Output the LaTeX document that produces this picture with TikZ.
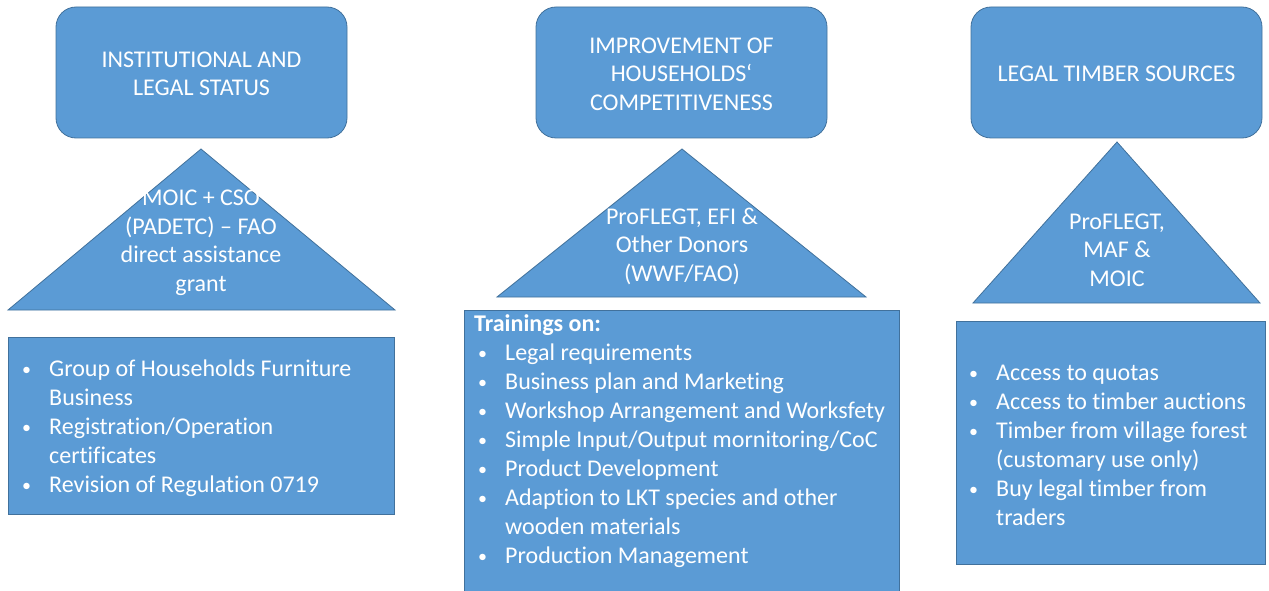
\documentclass[tikz,border=0pt]{standalone}
\usepackage{fontspec}
\setmainfont{Carlito}[Ligatures=NoCommon]
\definecolor{fillblue}{HTML}{5B9BD5}
\definecolor{edgeblue}{HTML}{41719C}
\begin{document}
\begin{tikzpicture}[x=1pt,y=-1pt,
  shapebox/.style={fill=fillblue,draw=edgeblue,line width=0.8pt},
  headbox/.style={shapebox,rounded corners=20pt},
  wtext/.style={text=white,font=\fontsize{24}{28.5}\selectfont,inner sep=0pt},
  ltext/.style={text=white,font=\fontsize{24}{29}\selectfont,inner sep=0pt,align=left}]
\useasboundingbox (0,0) rectangle (1269,591);
\newcommand{\bl}{\makebox[27pt][l]{\raisebox{1pt}{\scalebox{0.75}{\textbullet}}}}
\newcommand{\ind}{\hspace*{27pt}}
% column 1
\draw[headbox] (56,7) rectangle (347,138);
\node[wtext,align=center] (h1) at (201.5,74) {INSTITUTIONAL AND\\LEGAL STATUS};
\draw[shapebox] (201,149) -- (395,310) -- (8,310) -- cycle;
\node[wtext,align=center] (t1) at (201,243) {MOIC + CSO\\(PADETC) -- FAO\\direct assistance\\grant};
\draw[shapebox] (8,337) rectangle (394,514);
\node[ltext,anchor=west] (l1) at (22,428) {\bl Group of Households Furniture\\\ind Business\\\bl Registration/Operation\\\ind certificates\\\bl Revision of Regulation 0719};
% column 2
\draw[headbox] (536,7) rectangle (827,138);
\node[wtext,align=center] (h2) at (681.5,74) {IMPROVEMENT OF\\HOUSEHOLDS‘\\COMPETITIVENESS};
\draw[shapebox] (682,149) -- (866,297) -- (497,297) -- cycle;
\node[wtext,align=center] (t2) at (682,246) {ProFLEGT, EFI \&\\Other Donors\\(WWF/FAO)};
\draw[shapebox] (464,310) rectangle (899,593);
\node[ltext,anchor=west] (l2) at (474,441) {\textbf{Trainings on:}\\
\hspace*{4pt}\bl Legal requirements\\
\hspace*{4pt}\bl Business plan and Marketing\\
\hspace*{4pt}\bl Workshop Arrangement and Worksfety\\
\hspace*{4pt}\bl Simple Input/Output mornitoring/CoC\\
\hspace*{4pt}\bl Product Development\\
\hspace*{4pt}\bl Adaption to LKT species and other\\
\hspace*{4pt}\ind wooden materials\\
\hspace*{4pt}\bl Production Management};
% column 3
\draw[headbox] (971,7) rectangle (1262,138);
\node[wtext,align=center] (h3) at (1116.5,74) {LEGAL TIMBER SOURCES};
\draw[shapebox] (1117,142) -- (1260,303) -- (973,303) -- cycle;
\node[wtext,align=center] (t3) at (1117,250) {ProFLEGT,\\MAF \&\\MOIC};
\draw[shapebox] (956,321) rectangle (1265,564);
\node[ltext,anchor=west] (l3) at (969,445.5) {\bl Access to quotas\\\bl Access to timber auctions\\\bl Timber from village forest\\\ind (customary use only)\\\bl Buy legal timber from\\\ind traders};
\end{tikzpicture}
\end{document}
